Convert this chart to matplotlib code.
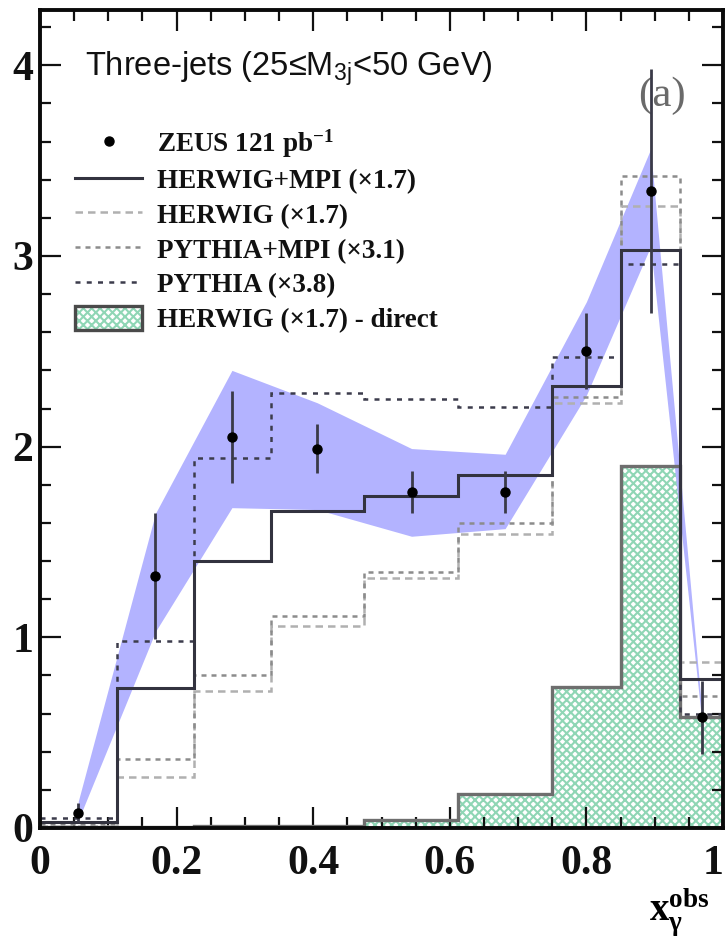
import matplotlib
matplotlib.use("Agg")
import matplotlib.pyplot as plt
import matplotlib.patches as mpatches
from matplotlib.lines import Line2D
from matplotlib.legend_handler import HandlerTuple
from matplotlib.ticker import MultipleLocator

# ---------------- data ----------------
bin_edges = [0.0, 0.1125, 0.225, 0.3375, 0.475, 0.6125, 0.75, 0.85, 0.9375, 1.0]

zeus_x = [0.056, 0.169, 0.281, 0.406, 0.544, 0.681, 0.800, 0.894, 0.969]
zeus_y = [0.08, 1.32, 2.05, 1.99, 1.76, 1.76, 2.50, 3.34, 0.58]
zeus_err = [0.05, 0.33, 0.24, 0.13, 0.11, 0.11, 0.20, 0.64, 0.19]

band_lo = [0.04, 1.03, 1.68, 1.67, 1.53, 1.57, 2.27, 3.05, 0.56]
band_hi = [0.14, 1.65, 2.40, 2.23, 1.99, 1.96, 2.76, 3.56, 0.62]

herwig_mpi = [0.03, 0.735, 1.40, 1.66, 1.74, 1.85, 2.32, 3.03, 0.78]
herwig = [0.01, 0.27, 0.72, 1.06, 1.31, 1.54, 2.23, 3.26, 0.87]
pythia_mpi = [0.02, 0.36, 0.80, 1.11, 1.34, 1.60, 2.26, 3.42, 0.69]
pythia = [0.05, 0.98, 1.94, 2.28, 2.25, 2.21, 2.47, 2.96, 0.60]
herwig_direct = [0.005, 0.005, 0.008, 0.01, 0.04, 0.18, 0.74, 1.90, 0.58]

x_tick_values = [0, 0.2, 0.4, 0.6, 0.8, 1.0]
x_tick_labels = ['0', '0.2', '0.4', '0.6', '0.8', '1']

legend_labels = [
    "ZEUS 121 pb$\\mathregular{^{-1}}$",
    "HERWIG+MPI (\u00d71.7)",
    "HERWIG (\u00d71.7)",
    "PYTHIA+MPI (\u00d73.1)",
    "PYTHIA (\u00d73.8)",
    "HERWIG (\u00d71.7) - direct",
]
title_text = "Three-jets (25\u2264M$\\mathregular{_{3j}}$<50 GeV)"

# ---------------- style ----------------
plt.rcParams['font.family'] = ['Liberation Serif', 'DejaVu Serif']
plt.rcParams['hatch.linewidth'] = 1.5

fig = plt.figure(figsize=(7.26, 9.39), dpi=100)
ax = fig.add_axes([40 / 726, 111 / 939, 683 / 726, 818 / 939])

band_col = '#b3b3ff'
hatch_col = '#8fd6b5'
hatch_pat = 'xxxx'

ax.fill_between(zeus_x, band_lo, band_hi, color=band_col, lw=0, zorder=1)

ax.stairs(herwig_direct, bin_edges, fill=True, facecolor='white', edgecolor=hatch_col,
          hatch=hatch_pat, lw=0, zorder=0.5)
ax.stairs(herwig_direct, bin_edges, color='#6e6e6e', lw=2.4, baseline=None, zorder=2)

ax.stairs(herwig, bin_edges, color='#b0b0b0', lw=1.8, ls=(0, (3, 2)), baseline=None, zorder=2)
ax.stairs(pythia_mpi, bin_edges, color='#8c8c8c', lw=1.8, ls=(0, (2, 2)), baseline=None, zorder=2)
ax.stairs(pythia, bin_edges, color='#3c3c4c', lw=1.8, ls=(0, (2, 2.5)), baseline=None, zorder=2.2)
ax.stairs(herwig_mpi, bin_edges, color='#33333f', lw=2.2, baseline=None, zorder=2.4)

ax.errorbar(zeus_x, zeus_y, yerr=zeus_err, fmt='o', color='black', ms=6.5,
            ecolor='#3a3a48', elinewidth=2.0, capsize=0, zorder=4)

ax.set_xlim(0, 1)
ax.set_ylim(0, 4.29)

ax.xaxis.set_minor_locator(MultipleLocator(0.05))
ax.yaxis.set_major_locator(MultipleLocator(1))
ax.yaxis.set_minor_locator(MultipleLocator(0.2))
ax.set_xticks(x_tick_values)
ax.set_xticklabels(x_tick_labels)
ax.tick_params(which='both', direction='in', top=True, right=True, width=1.6, colors='#111111')
ax.tick_params(which='major', length=15)
ax.tick_params(which='minor', length=8)
ax.tick_params(axis='x', which='major', pad=12, labelsize=30)
ax.tick_params(axis='y', which='major', pad=5, labelsize=30)
for lab in ax.get_xticklabels() + ax.get_yticklabels():
    lab.set_fontweight('bold')
ax.get_xticklabels()[-1].set_horizontalalignment('right')
for sp in ax.spines.values():
    sp.set_linewidth(2.8)
    sp.set_color('#0a0a0a')

ax.text(0.066, 0.92, title_text, transform=ax.transAxes, fontsize=23.5,
        family=['Liberation Sans', 'DejaVu Sans'], va='baseline', ha='left', color='#111111')
ax.text(0.91, 3.84, "(a)", fontsize=31, color='#6a6a6a', ha='center', va='center')

fig.text(0.935, 0.028, "$\\mathregular{x_{\\gamma}^{obs}}$", fontsize=28, fontweight='bold',
         ha='center', va='center')

# legend
h_data = Line2D([], [], marker='o', color='black', ls='none', ms=6.5)
h_hm = Line2D([], [], color='#33333f', lw=2.2)
h_h = Line2D([], [], color='#b0b0b0', lw=1.8, ls=(0, (3, 2)))
h_pm = Line2D([], [], color='#8c8c8c', lw=1.8, ls=(0, (2, 2)))
h_p = Line2D([], [], color='#3c3c4c', lw=1.8, ls=(0, (2, 2.5)))
h_d1 = mpatches.Patch(facecolor='white', edgecolor=hatch_col, hatch=hatch_pat, lw=0)
h_d2 = mpatches.Patch(facecolor='none', edgecolor='#4a4a4a', lw=2.4)
leg = ax.legend([h_data, h_hm, h_h, h_pm, h_p, (h_d1, h_d2)], legend_labels,
                handler_map={tuple: HandlerTuple(ndivide=1, pad=0)},
                loc='upper left', bbox_to_anchor=(0.035, 0.870), frameon=False,
                prop={'family': 'Liberation Serif', 'weight': 'bold', 'size': 19.5},
                handlelength=2.5, handleheight=1.0, handletextpad=0.55, labelspacing=0.27,
                borderaxespad=0)
for t in leg.get_texts():
    t.set_color('#111111')

fig.savefig('out.png', dpi=100)
